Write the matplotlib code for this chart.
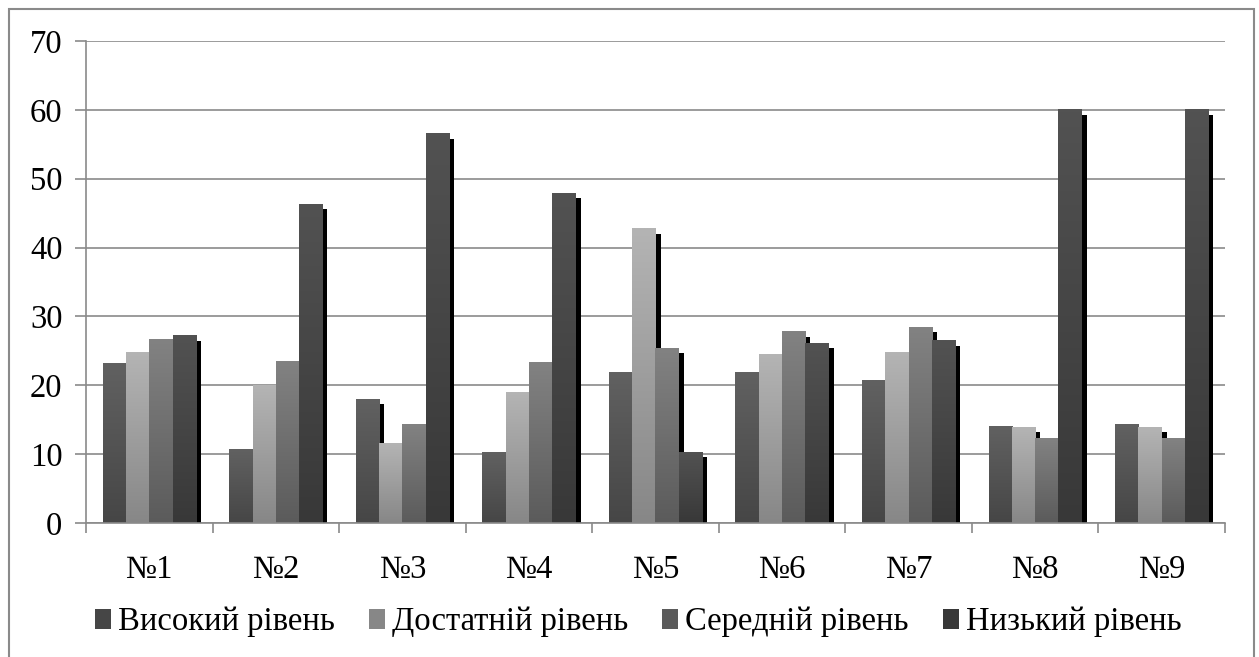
import numpy as np
import matplotlib
matplotlib.use('Agg')
import matplotlib.pyplot as plt
import matplotlib.transforms as mtransforms
from matplotlib.patches import Rectangle, Patch
from matplotlib.colors import LinearSegmentedColormap

plt.rcParams['font.family'] = ['Liberation Serif', 'DejaVu Serif']

categories = ['№1', '№2', '№3', '№4', '№5', '№6', '№7', '№8', '№9']
series_names = ['Високий рівень', 'Достатній рівень', 'Середній рівень', 'Низький рівень']
high = [23.1, 10.7, 18.0, 10.3, 21.9, 21.9, 20.7, 14.0, 14.3]
sufficient = [24.7, 20.0, 11.5, 19.0, 42.7, 24.4, 24.8, 13.9, 13.9]
medium = [26.6, 23.4, 14.3, 23.3, 25.4, 27.8, 28.4, 12.3, 12.3]
low = [27.2, 46.3, 56.5, 47.9, 10.3, 26.1, 26.5, 60.0, 60.0]
values = [high, sufficient, medium, low]

# gradient colours (top, bottom) per series
grad = [('#616161', '#464646'),
        ('#b4b4b4', '#878787'),
        ('#828282', '#5b5b5b'),
        ('#525252', '#383838')]

FS = 23.5

fig = plt.figure(figsize=(12.59, 6.57), dpi=100)
ax = fig.add_axes([86 / 1259, 1 - 523 / 657, (1225 - 86) / 1259, (523 - 41) / 657])

n = len(categories)
width = 0.184
x = np.arange(n)
shadow_tr = mtransforms.offset_copy(ax.transData, fig=fig, x=5, y=-5, units='dots')

for i, vals in enumerate(values):
    offs = x + (i - 1.5) * width
    # shadows first, bars on top
    ax.bar(offs, vals, width, color='black', transform=shadow_tr, zorder=2, linewidth=0)
    cmap = LinearSegmentedColormap.from_list('g%d' % i, [grad[i][1], grad[i][0]])
    g = np.linspace(0, 1, 128).reshape(-1, 1)
    for xo, v in zip(offs, vals):
        ax.imshow(g, cmap=cmap, origin='lower', aspect='auto', interpolation='bilinear',
                  extent=(xo - width / 2, xo + width / 2, 0, v), zorder=3)

ax.set_xlim(-0.5, n - 0.5)
ax.set_ylim(0, 70)
ax.set_yticks(np.arange(0, 71, 10))
ax.set_xticks(x)
ax.set_xticklabels(categories)
ax.set_xticks(np.arange(-0.5, n, 1), minor=True)
ax.yaxis.grid(True, color='#8a8a8a', linewidth=1.2, zorder=1)
ax.set_axisbelow(True)

for s in ['top', 'right']:
    ax.spines[s].set_visible(False)
for s in ['left', 'bottom']:
    ax.spines[s].set_color('#8a8a8a')
    ax.spines[s].set_linewidth(1.2)
    ax.spines[s].set_zorder(4)

ax.tick_params(axis='y', length=8, width=1.2, color='#8a8a8a', labelsize=FS, pad=9)
ax.tick_params(axis='x', which='major', length=0, labelsize=FS, pad=23)
ax.tick_params(axis='x', which='minor', length=7.5, width=1.2, color='#8a8a8a')

handles = [Patch(facecolor=grad[i][1], edgecolor='none') for i in range(4)]
fig.legend(handles, series_names, loc='center', bbox_to_anchor=(638 / 1259, 1 - 622 / 657),
           ncol=4, frameon=False, fontsize=FS, handlelength=0.5, handleheight=0.55,
           handletextpad=0.2, columnspacing=1.05, borderpad=0)

# outer chart frame
fig.patches.append(Rectangle((9 / 1259, -0.05), (1254 - 9) / 1259, 1 - 9 / 657 + 0.05,
                             transform=fig.transFigure, fill=False,
                             edgecolor='#8a8a8a', linewidth=1.5))

fig.savefig('out.png', dpi=100)
